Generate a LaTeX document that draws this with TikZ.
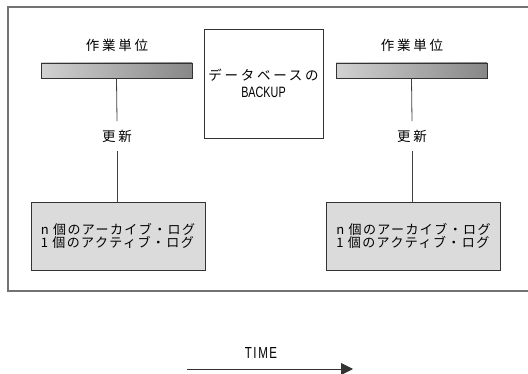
\documentclass[tikz,border=0pt]{standalone}
\usepackage{fontspec}
\newfontfamily\jpwide[LetterSpace=20]{Noto Sans CJK JP}
\newfontfamily\jplog[LetterSpace=11]{Noto Sans CJK JP}
\newfontfamily\condfont[FakeStretch=0.72]{Liberation Sans}
\newfontfamily\timefont[FakeStretch=0.72, LetterSpace=10]{Liberation Sans}
\usetikzlibrary{arrows.meta}

\begin{document}
\begin{tikzpicture}[x=1pt, y=-1pt,
    unitlabel/.style={font=\jpwide\fontsize{13.5}{14}\selectfont, inner sep=0pt},
    updlabel/.style={font=\jpwide\fontsize{13.5}{14}\selectfont, inner xsep=0pt, inner ysep=8.5pt},
    unitbar/.style={draw=black!80, line width=0.8pt, left color=black!18, right color=black!47,
        minimum width=151pt, minimum height=15pt, inner sep=0pt},
    logbox/.style={draw=black!80, fill=black!14, line width=0.8pt, minimum width=174pt,
        minimum height=68pt, align=left, font=\jplog\fontsize{13}{12.5}\selectfont},
    link/.style={draw=black!75, line width=0.8pt}]
    \useasboundingbox (0,0) rectangle (528,374);
    % frame, open at the right
    \draw[black!55, line width=1.5pt] (528,7) -- (8,7) -- (8,291) -- (528,291);

    % left unit of work
    \node[unitlabel] (lunit) at (117,45) {作業単位};
    \node[unitbar] (lbar) at (116.5,70.5) {};
    \node[updlabel] (lupd) at (117,136) {更新};
    \node[logbox] (llog) at (118,236) {n 個のアーカイブ・ログ\\1 個のアクティブ・ログ};
    \draw[link] (lbar.south) -- (lupd.north);
    \draw[link] (lupd.south) -- (lupd.south |- llog.north);

    % backup in the middle
    \node[draw=black!80, line width=0.8pt, minimum width=119pt, minimum height=109pt,
        align=center, font=\fontsize{13.5}{17}\selectfont] (backup) at (263.5,83.5)
        {{\jpwide データベースの}\\{\condfont\fontsize{15}{17}\selectfont BACKUP}};

    % right unit of work
    \node[unitlabel] (runit) at (412,45) {作業単位};
    \node[unitbar] (rbar) at (411.5,70.5) {};
    \node[updlabel] (rupd) at (412,136) {更新};
    \node[logbox] (rlog) at (413.5,236) {n 個のアーカイブ・ログ\\1 個のアクティブ・ログ};
    \draw[link] (rbar.south) -- (rupd.north);
    \draw[link] (rupd.south) -- (rupd.south |- rlog.north);

    % time axis
    \coordinate (tstart) at (187,369);
    \coordinate (tend) at (353,369);
    \draw[black!80, line width=0.9pt, -{Triangle[length=12pt,width=12pt]}] (tstart) -- (tend);
    \node[font=\timefont\fontsize{16}{16}\selectfont, inner sep=0pt] (time) at (261,353) {TIME};
\end{tikzpicture}
\end{document}
